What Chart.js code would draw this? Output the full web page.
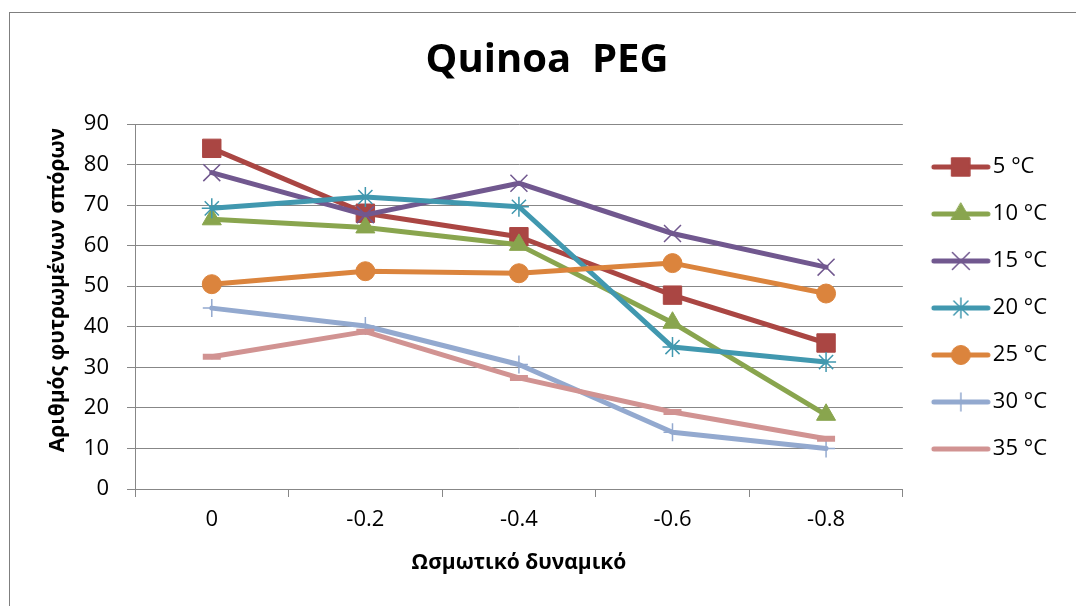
<!DOCTYPE html>
<html>
<head>
<meta charset="utf-8">
<script src="https://cdn.jsdelivr.net/npm/chart.js"></script>
<style>
  body { margin: 0; background: #fff; }
  #wrap { position: relative; width: 1076px; height: 606px; overflow: hidden; }
  #frame { position: absolute; left: 9px; top: 12px; width: 1200px; height: 700px;
           border-top: 1px solid #7f7f7f; border-left: 1px solid #7f7f7f; }
  #chart { position: absolute; left: 0; top: 0; }
</style>
</head>
<body>
<div id="wrap">
  <div id="frame"></div>
  <canvas id="chart" width="1076" height="606"></canvas>
</div>
<script>
// categories: osmotic potential
const categories = ["0", "-0.2", "-0.4", "-0.6", "-0.8"]
const seriesNames = ["5 °C", "10 °C", "15 °C", "20 °C", "25 °C", "30 °C", "35 °C"]
// germinated seeds per temperature
const t5 = [84, 68, 62.2, 47.8, 36]
const t10 = [66.5, 64.5, 60.2, 41, 18.3]
const t15 = [78, 67.6, 75.4, 63, 54.7]
const t20 = [69.2, 72, 69.6, 35, 31.3]
const t25 = [50.5, 53.7, 53.2, 55.7, 48.2]
const t30 = [44.6, 40.2, 30.7, 14, 10]
const t35 = [32.6, 38.8, 27.4, 19, 12.4]
const yTicks = [0, 10, 20, 30, 40, 50, 60, 70, 80, 90]

const values = [t5, t10, t15, t20, t25, t30, t35]
const colors = ["#AA4643", "#89A54E", "#71588F", "#4198AF", "#DB843D", "#93A9CF", "#D19392"]
const markers = [
    {style: "rect", radius: 13, width: 1, fill: true},
    {style: "triangle", radius: 11, width: 1, fill: true},
    {style: "crossRot", radius: 12, width: 1.5, fill: false},
    {style: "star", radius: 10, width: 1.5, fill: false},
    {style: "circle", radius: 9.5, width: 1, fill: true},
    {style: "cross", radius: 9, width: 1.5, fill: false},
    {style: "line", radius: 9, width: 6, fill: false}
]
const FONT = "'Open Sans', 'Noto Sans', sans-serif"
const gridColor = "#878787"

// small legend icons: line with the marker in the middle
function legendIcon(i){
    let c = document.createElement("canvas")
    c.width = 74
    c.height = 26
    let ctx = c.getContext("2d")
    ctx.strokeStyle = colors[i]
    ctx.lineWidth = 5
    ctx.lineCap = "round"
    ctx.beginPath()
    ctx.moveTo(16, 13)
    ctx.lineTo(70, 13)
    ctx.stroke()
    if (i < 6){
        ctx.fillStyle = colors[i]
        ctx.lineWidth = markers[i].width
        Chart.helpers.drawPoint(ctx, {pointStyle: markers[i].style, radius: markers[i].radius, borderWidth: markers[i].width, rotation: 0}, 43, 13)
    }
    return c
}

let datasets = values.map(function(v, i){
    return {
        label: seriesNames[i],
        data: v,
        borderColor: colors[i],
        backgroundColor: colors[i],
        borderWidth: 5,
        borderCapStyle: "round",
        borderJoinStyle: "round",
        pointStyle: markers[i].style,
        pointRadius: markers[i].radius,
        pointBorderWidth: markers[i].width,
        pointBackgroundColor: markers[i].fill ? colors[i] : "transparent",
        pointBorderColor: colors[i],
        tension: 0,
        order: -i
    }
})

new Chart("chart", {
    type: "line",
    data: { labels: categories, datasets: datasets },
    options: {
        responsive: false,
        animation: false,
        layout: { padding: { left: 37, top: 10, right: 19, bottom: 0 } },
        plugins: {
            tooltip: { enabled: false },
            title: {
                display: true,
                text: "Quinoa  PEG",
                color: "#000",
                font: { family: FONT, size: 40, weight: "bold" },
                padding: { top: 27, bottom: 39 }
            },
            legend: {
                position: "right",
                labels: {
                    usePointStyle: true,
                    pointStyleWidth: 54,
                    padding: 25,
                    color: "#000",
                    font: { family: FONT, size: 22 },
                    generateLabels: function(chart){
                        return chart.data.datasets.map(function(ds, i){
                            return {
                                text: ds.label,
                                pointStyle: legendIcon(i),
                                fillStyle: colors[i],
                                strokeStyle: colors[i],
                                lineWidth: 0,
                                hidden: false,
                                datasetIndex: i
                            }
                        })
                    }
                }
            }
        },
        scales: {
            x: {
                offset: true,
                grid: { offset: true, drawOnChartArea: false, tickLength: 8, color: gridColor },
                border: { color: gridColor },
                ticks: { color: "#000", font: { family: FONT, size: 22 }, padding: 10 },
                title: {
                    display: true,
                    text: "Ωσμωτικό δυναμικό",
                    color: "#000",
                    font: { family: FONT, size: 21, weight: "bold" },
                    padding: { top: 6, bottom: 30 }
                },
                afterFit: function(s){ s.height = 117 }
            },
            y: {
                min: 0,
                max: 90,
                afterBuildTicks: function(s){ s.ticks = yTicks.map(function(v){ return {value: v} }) },
                grid: { tickLength: 8, color: gridColor },
                border: { color: gridColor },
                ticks: { color: "#000", font: { family: FONT, size: 22 }, padding: 18 },
                title: {
                    display: true,
                    // leading spaces push the centred title up a little, as in the original
                    text: "      Αριθμός φυτρωμένων σπόρων",
                    color: "#000",
                    font: { family: FONT, size: 21, weight: "bold" },
                    padding: { top: 8, bottom: 0 }
                },
                afterFit: function(s){ s.width = 98 }
            }
        }
    }
})
</script>
</body>
</html>
